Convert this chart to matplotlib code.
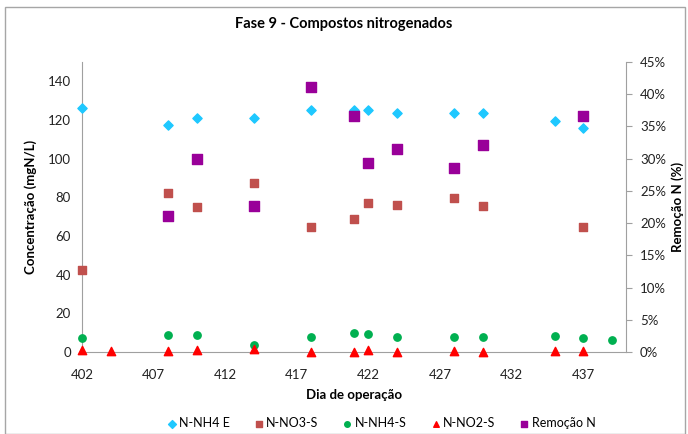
import matplotlib.pyplot as plt
from matplotlib.patches import Rectangle
from matplotlib.ticker import FuncFormatter

plt.rcParams['font.family'] = ['Lato', 'DejaVu Sans']

# days of operation per series
days_nh4e = [402, 408, 410, 414, 418, 421, 422, 424, 428, 430, 435, 437]
nh4_e = [126.0, 117.2, 121.1, 121.1, 125.4, 125.4, 125.0, 123.6, 123.6, 123.6, 119.7, 116.1]

days_no3 = [402, 408, 410, 414, 418, 421, 422, 424, 428, 430, 437]
no3_s = [42.6, 82.2, 75.0, 87.5, 64.8, 68.8, 77.2, 76.2, 79.8, 75.5, 64.8]

days_nh4s = [402, 408, 410, 414, 418, 421, 422, 424, 428, 430, 435, 437, 439]
nh4_s = [7.0, 8.9, 8.6, 3.8, 8.0, 10.0, 9.4, 7.7, 7.7, 7.7, 8.4, 7.4, 6.0]

days_no2 = [402, 404, 408, 410, 414, 418, 421, 422, 424, 428, 430, 435, 437]
no2_s = [0.8, 0.5, 0.7, 0.9, 1.3, 0.1, 0.2, 1.2, 0.2, 0.3, 0.0, 0.3, 0.3]

days_rem = [408, 410, 414, 418, 421, 422, 424, 428, 430, 437]
remocao = [21.1, 29.9, 22.6, 41.2, 36.6, 29.3, 31.5, 28.5, 32.2, 36.7]

xticks = [402, 407, 412, 417, 422, 427, 432, 437]

fig = plt.figure(figsize=(6.88, 4.34), dpi=100)
fig.patches.append(Rectangle((0.007, 0.0), 0.989, 0.985, transform=fig.transFigure,
                             fill=False, edgecolor='#a6a6a6', linewidth=1))

ax = fig.add_axes([0.1192, 0.189, 0.791, 0.668])
ax2 = ax.twinx()

ax.scatter(days_nh4e, nh4_e, marker='D', s=22, color='#1ec8ff', label='N-NH4 E', zorder=3, clip_on=False)
ax.scatter(days_no3, no3_s, marker='s', s=36, color='#c0504d', label='N-NO3-S', zorder=3, clip_on=False)
ax.scatter(days_nh4s, nh4_s, marker='o', s=28, color='#00b050', label='N-NH4-S', zorder=3, clip_on=False)
ax.scatter(days_no2, no2_s, marker='^', s=36, color='#ff0000', label='N-NO2-S', zorder=4, clip_on=False)
ax2.scatter(days_rem, remocao, marker='s', s=52, color='#990099', label='Remoção N', zorder=3, clip_on=False)

ax.set_xlim(402, 440)
ax.set_ylim(0, 150)
ax2.set_ylim(0, 45)
ax.set_xticks(xticks)
ax.set_yticks(range(0, 141, 20))
ax2.set_yticks(range(0, 46, 5))
ax2.yaxis.set_major_formatter(FuncFormatter(lambda v, p: f"{int(v)}%"))

for a in (ax, ax2):
    for s in a.spines.values():
        s.set_visible(False)
    a.tick_params(labelsize=9.5, colors='#222222')
ax.spines['left'].set_visible(True)
ax.spines['bottom'].set_visible(True)
ax2.spines['right'].set_visible(True)
for s in (ax.spines['left'], ax.spines['bottom'], ax2.spines['right']):
    s.set_color('#a0a0a0')
ax.tick_params(axis='x', length=0, pad=12)
ax.tick_params(axis='y', length=0, pad=8)
ax2.tick_params(axis='y', length=4, color='#a0a0a0', pad=6)

ax.set_xlabel('Dia de operação', fontsize=9.5, fontweight='bold', labelpad=6)
ax.set_ylabel('Concentração (mgN/L)', fontsize=9.5, fontweight='bold', labelpad=8)
ax2.set_ylabel('Remoção N (%)', fontsize=9.5, fontweight='bold', labelpad=4)

fig.text(0.5, 0.945, 'Fase 9 - Compostos nitrogenados', ha='center', va='center',
         fontsize=10.5, fontweight='bold')

h1, l1 = ax.get_legend_handles_labels()
h2, l2 = ax2.get_legend_handles_labels()
leg = fig.legend(h1 + h2, l1 + l2, loc='center', bbox_to_anchor=(0.553, 0.025), ncol=5,
                 frameon=False, fontsize=9, handletextpad=0.1, columnspacing=1.8,
                 handlelength=1.0)
for h in leg.legend_handles:
    h.set_sizes([16])

fig.savefig('out.png', dpi=100)
